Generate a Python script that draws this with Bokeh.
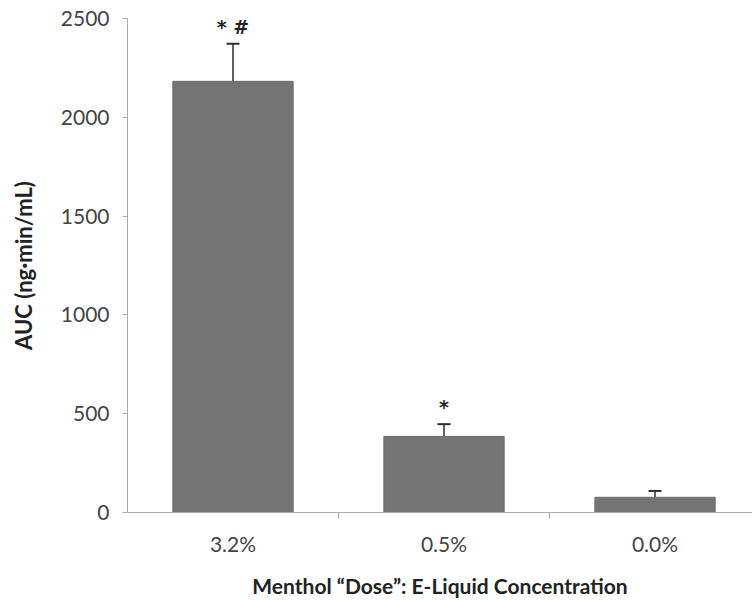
from bokeh.plotting import figure
from bokeh.models import ColumnDataSource, Range1d, FixedTicker, Whisker, TeeHead
from bokeh.core.properties import value
from bokeh.embed import file_html
from bokeh.resources import INLINE

doses = ["3.2%", "0.5%", "0.0%"]
auc = [2182, 385, 77]
sem = [190, 62, 32]
marks = ["* #", "*", ""]
y_ticks = [0, 500, 1000, 1500, 2000, 2500]

xs = [i + 0.5 for i in range(len(doses))]
upper = [a + s for a, s in zip(auc, sem)]
src = ColumnDataSource(dict(x=xs, top=auc, upper=upper, mark=marks, dose=doses))

FONT = "Lato"
p = figure(width=752, height=600, output_backend="svg", toolbar_location=None,
           x_range=Range1d(0, 2.962), y_range=Range1d(0, 2500),
           min_border_left=127, min_border_right=0, min_border_top=18, min_border_bottom=87)
p.outline_line_color = None
p.grid.grid_line_color = None
p.background_fill_color = "white"

p.vbar(x="x", top="top", width=0.57, source=src, fill_color="#747474", line_color="#6a6a6a")
w = Whisker(source=src, base="x", upper="upper", lower="top", dimension="height",
            line_color="#2e2e2e", line_width=1.5,
            upper_head=TeeHead(size=13, line_width=2, line_color="#2e2e2e"), lower_head=None)
p.add_layout(w)
p.text(x="x", y="upper", text="mark", source=src, text_align="center", text_baseline="bottom",
       y_offset=-6, text_font=value("DejaVu Sans"), text_font_style="bold", text_font_size="19px",
       text_color="#222222")

ax = p.yaxis[0]
ax.ticker = FixedTicker(ticks=y_ticks)
ax.axis_line_color = "#aaaaaa"
ax.major_tick_line_color = "#aaaaaa"
ax.major_tick_out = 5
ax.major_tick_in = 0
ax.minor_tick_line_color = None
ax.major_label_standoff = 13
ax.major_label_text_font = FONT
ax.major_label_text_font_size = "21px"
ax.major_label_text_color = "#444444"
ax.axis_label = "AUC (ng\u00b7min/mL)"
ax.axis_label_text_font = FONT
ax.axis_label_text_font_style = "bold"
ax.axis_label_text_font_size = "22px"
ax.axis_label_text_color = "#222222"
ax.axis_label_standoff = 21

bx = p.xaxis[0]
bx.ticker = FixedTicker(ticks=xs, minor_ticks=[1, 2])
bx.major_label_overrides = {x: d for x, d in zip(xs, doses)}
bx.axis_line_color = "#aaaaaa"
bx.major_tick_line_color = None
bx.minor_tick_line_color = "#aaaaaa"
bx.minor_tick_out = 6
bx.minor_tick_in = 0
bx.major_label_standoff = 12
bx.major_label_text_font = FONT
bx.major_label_text_font_size = "21px"
bx.major_label_text_color = "#444444"
bx.axis_label = "Menthol \u201cDose\u201d: E-Liquid Concentration"
bx.axis_label_text_font = FONT
bx.axis_label_text_font_style = "bold"
bx.axis_label_text_font_size = "21px"
bx.axis_label_text_color = "#222222"
bx.axis_label_standoff = 14

open("out.html", "w").write(file_html(p, INLINE))
